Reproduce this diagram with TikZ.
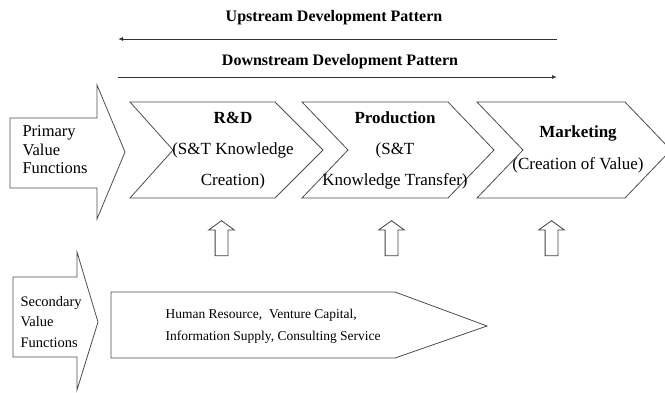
\documentclass[tikz,border=0pt]{standalone}
\usepackage{fontspec}
\setmainfont{Liberation Serif}
\usetikzlibrary{arrows.meta,shapes.arrows}

\tikzset{
  outline/.style={draw=black!70, line width=0.8pt, line join=miter},
  flow/.style={draw=black!80, line width=1pt, -{Latex[length=5pt,width=4pt]}},
  pattern label/.style={font=\bfseries\fontsize{16}{18}\selectfont},
  stage/.style={align=center, font=\fontsize{17}{31}\selectfont},
  side label/.style={align=left, anchor=west},
  lift/.style={single arrow, draw=black!75, line width=0.8pt, inner sep=6pt,
    minimum height=35pt, single arrow head extend=6.5pt,
    single arrow head indent=0pt, single arrow tip angle=108, shape border rotate=90}
}

\begin{document}
\begin{tikzpicture}[x=1pt,y=-1pt]
\useasboundingbox (0,0) rectangle (665,392);

% development direction
\node[pattern label] (up) at (334,18) {Upstream Development Pattern};
\node[pattern label] (down) at (340,62) {Downstream Development Pattern};
\coordinate (upR) at (557,39);
\coordinate (upL) at (118,39);
\coordinate (downL) at (118,77);
\coordinate (downR) at (557,77);
\draw[flow] (upR) -- (upL);
\draw[flow] (downL) -- (downR);

% primary value functions
\draw[outline] (10,118) -- (97,118) -- (97,85) -- (125,152) -- (97,219) -- (97,188) -- (10,188) -- cycle;
\node[side label, font=\fontsize{16.5}{18.5}\selectfont] (prim) at (19,150) {Primary\\Value\\Functions};

\draw[outline] (130,102) -- (275,102) -- (323,150) -- (275,198) -- (130,198) -- (173,150) -- cycle;
\draw[outline] (302,102) -- (448,102) -- (494,150) -- (448,198) -- (302,198) -- (348,150) -- cycle;
\draw[outline] (477,102) -- (625,102) -- (671,150) -- (625,198) -- (477,198) -- (523,150) -- cycle;

\node[stage] (rd) at (233,151) {\textbf{R\&D}\\(S\&T Knowledge\\Creation)};
\node[stage] (prod) at (395,150) {\textbf{Production}\\(S\&T\\Knowledge Transfer)};
\node[stage, font=\fontsize{17}{32}\selectfont] (mkt) at (578,149) {\textbf{Marketing}\\(Creation of Value)};

% support feeds the primary chain
\node[lift] (lift1) at (221.5,240.5) {};
\node[lift] (lift2) at (391.5,240.5) {};
\node[lift] (lift3) at (551.5,240.5) {};

% secondary value functions
\draw[outline] (13,277) -- (77,277) -- (77,252) -- (98,322) -- (77,390) -- (77,357) -- (13,357) -- cycle;
\node[side label, font=\fontsize{14.5}{20.5}\selectfont] (sec) at (17,322) {Secondary\\Value\\Functions};

\draw[outline] (111,292) -- (395,292) -- (487,326) -- (395,358) -- (111,358) -- cycle;
\node[side label, font=\fontsize{13.5}{22}\selectfont] (supp) at (162,326) {Human Resource,\ \ Venture Capital,\\Information Supply, Consulting Service};
\end{tikzpicture}
\end{document}
